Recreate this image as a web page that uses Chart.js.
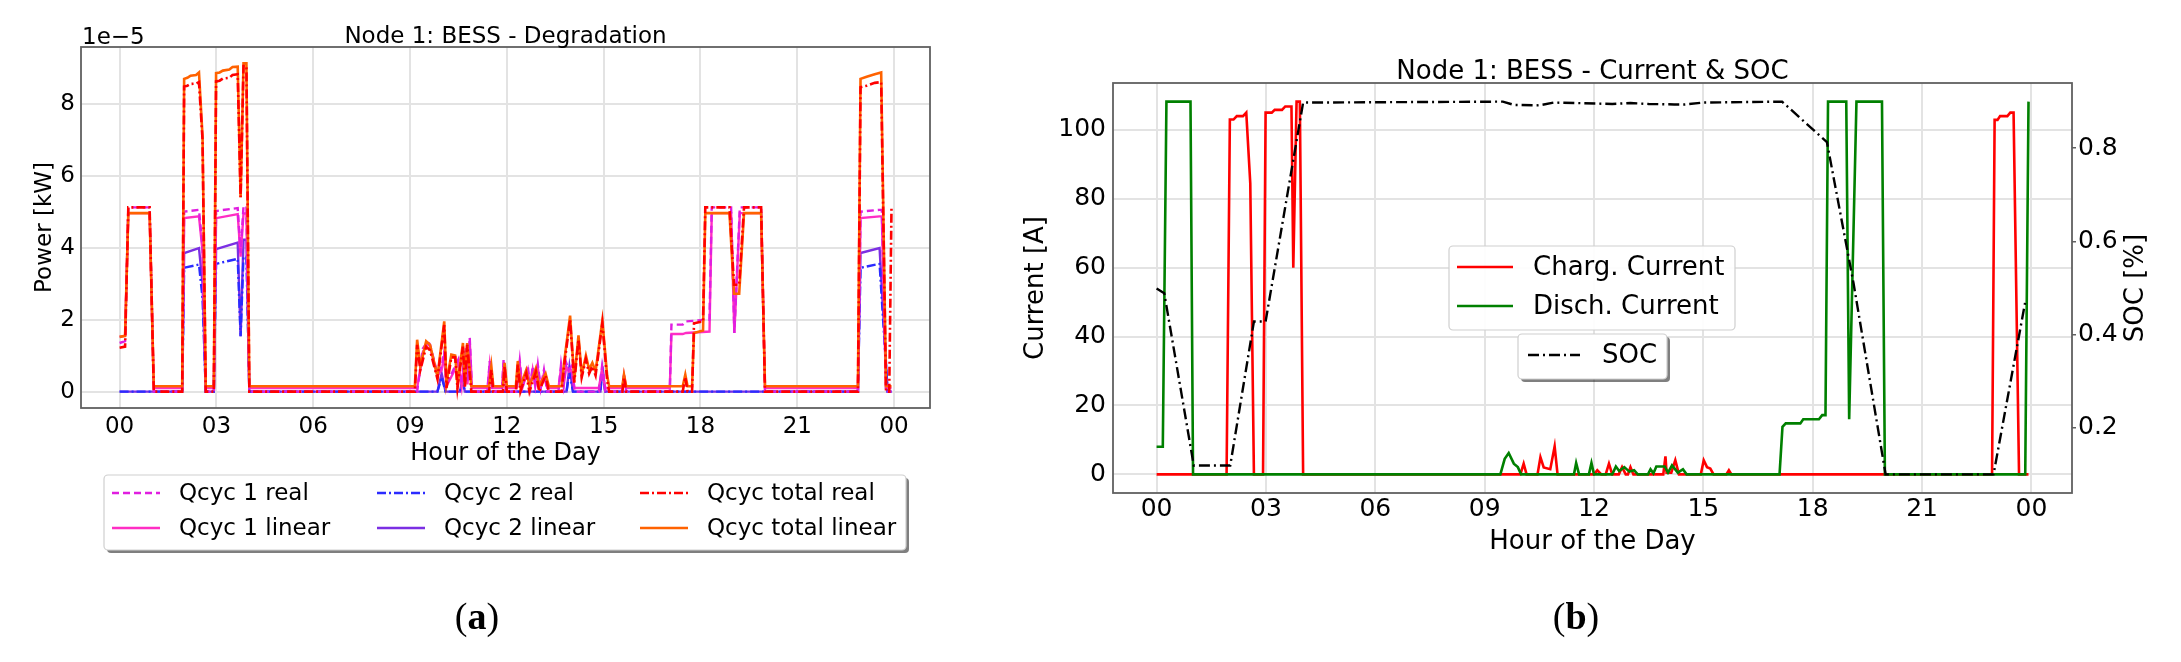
<!DOCTYPE html>
<html>
<head>
<meta charset="utf-8">
<script src="https://cdn.jsdelivr.net/npm/chart.js@4.4.1/dist/chart.umd.min.js"></script>
<style>
  html, body { margin: 0; padding: 0; background: #fff; }
  body { width: 2181px; height: 662px; position: relative; overflow: hidden; }
  canvas { position: absolute; top: 0; }
  #degradation { left: 0; width: 1000px; height: 662px; }
  #current { left: 1000px; width: 1181px; height: 662px; }
</style>
</head>
<body>
<canvas id="degradation" width="1000" height="662"></canvas>
<canvas id="current" width="1181" height="662"></canvas>
<script>
const FONT = '"DejaVu Sans"';

// shared hour axis
const hourTicks = [0, 3, 6, 9, 12, 15, 18, 21, 24];
const hourLabels = ['00', '03', '06', '09', '12', '15', '18', '21', '00'];
const powerTicks = [0, 2, 4, 6, 8];
const currentTicks = [0, 20, 40, 60, 80, 100];
const socTicks = [0.2, 0.4, 0.6, 0.8];

// (a) degradation, values in 1e-5 kW; breakpoints in hours
const totT = [
  0, 0.17, 0.27, 0.93, 1.06, 1.94, 2.00, 2.10, 2.20, 2.37, 2.46, 2.57, 2.67, 2.92, 2.99, 3.10, 3.20, 3.40, 3.50, 3.66, 3.75, 3.84, 3.93, 4.02,
  9.15, 9.22, 9.32, 9.50, 9.62, 9.85, 10.06, 10.13, 10.28, 10.40, 10.47, 10.64, 10.70, 10.77, 10.90,
  11.45, 11.52, 11.58, 11.88, 11.93, 12.00, 12.28, 12.34, 12.42, 12.60, 12.70, 12.90, 13.00, 13.20, 13.30,
  13.70, 13.78, 13.96, 14.09, 14.22, 14.32, 14.45, 14.55, 14.65, 14.75, 14.96, 15.11, 15.17, 15.58, 15.63, 15.70,
  17.45, 17.53, 17.60, 17.74, 17.80, 18.08, 18.15, 18.90, 19.04, 19.20, 19.35, 19.88, 20.00,
  22.88, 22.96, 23.15, 23.40, 23.60, 23.75, 23.85, 23.92
];
const totReal = [
  1.22, 1.25, 5.12, 5.12, 0, 0, 8.48, 8.50, 8.55, 8.56, 8.60, 7.00, 0, 0, 8.62, 8.64, 8.70, 8.72, 8.80, 8.82, 5.40, 9.05, 9.05, 0,
  0, 1.30, 0.60, 1.25, 1.15, 0.35, 1.85, 0.10, 0.95, 0.95, 0.10, 1.25, 0.10, 1.30, 0,
  0, 0.60, 0, 0, 0.70, 0, 0, 0.75, 0, 0.50, 0, 0.55, 0, 0.45, 0,
  0, 0.75, 2.00, 0.25, 1.45, 0.40, 0.90, 0.50, 0.70, 0.45, 1.90, 0.30, 0, 0, 0.40, 0,
  0, 0.40, 0, 0, 1.90, 1.95, 5.12, 5.12, 2.97, 2.97, 5.12, 5.12, 0,
  0, 8.46, 8.50, 8.58, 8.60, 0, 0, 5.12
];
const totLin = [
  1.52, 1.55, 4.96, 4.96, 0.15, 0.15, 8.69, 8.72, 8.78, 8.80, 8.87, 7.10, 0.15, 0.15, 8.85, 8.87, 8.92, 8.95, 9.02, 9.03, 5.40, 9.12, 9.12, 0.15,
  0.15, 1.44, 0.70, 1.40, 1.30, 0.42, 1.95, 0.24, 1.03, 1.00, 0.20, 1.35, 0.20, 1.35, 0.15,
  0.15, 0.70, 0.15, 0.15, 0.80, 0.15, 0.15, 0.85, 0.15, 0.60, 0.15, 0.65, 0.15, 0.50, 0.15,
  0.15, 0.85, 2.11, 0.33, 1.56, 0.47, 1.00, 0.61, 0.80, 0.56, 1.98, 0.43, 0.15, 0.15, 0.47, 0.15,
  0.15, 0.47, 0.15, 0.15, 1.63, 1.70, 4.96, 4.96, 2.72, 2.72, 4.96, 4.96, 0.15,
  0.15, 8.69, 8.75, 8.82, 8.87, 0.15, 0.15, 0.15
];

const q1T = [
  0, 0.17, 0.27, 0.93, 1.06, 1.94, 2.00, 2.46, 2.57, 2.67, 2.92, 2.99, 3.66, 3.75, 3.84, 3.93, 4.02,
  9.22, 9.40, 9.55, 9.62, 9.85, 9.98, 10.06, 10.13, 10.50, 10.60, 10.70, 10.78, 10.85, 10.92,
  11.40, 11.47, 11.55, 11.85, 11.90, 11.97, 12.30, 12.40, 12.48, 12.65, 12.72, 12.80, 12.88, 12.96, 13.05, 13.15, 13.25, 13.60, 13.68, 13.76, 13.84, 13.92, 14.00, 14.10,
  14.85, 14.95, 15.05, 15.58, 15.63, 15.70,
  17.05, 17.10, 17.45, 17.55, 18.28, 18.35, 18.95, 19.05, 19.22, 19.88, 20.00,
  22.88, 22.96, 23.55, 23.62, 23.75, 23.85, 23.92
];
const q1Real = [
  1.35, 1.40, 5.12, 5.12, 0, 0, 5.00, 5.05, 4.00, 0, 0, 5.02, 5.10, 3.85, 5.15, 5.15, 0,
  0, 1.20, 1.40, 1.30, 0.50, 0.70, 1.10, 0.20, 0.90, 0.20, 1.20, 0.30, 1.50, 0,
  0, 0.85, 0, 0, 0.90, 0, 0, 0.85, 0.10, 0.70, 0.10, 0.70, 0.20, 0.75, 0.10, 0.60, 0, 0, 0.75, 0.20, 0.80, 0.60, 0.70, 0,
  0, 0.70, 0, 0, 0.50, 0,
  0, 1.86, 1.86, 1.95, 2.00, 5.12, 5.12, 1.63, 5.12, 5.12, 0,
  0, 5.00, 5.05, 5.05, 0, 0, 0
];
const q1Lin = [
  1.52, 1.55, 4.96, 4.96, 0.10, 0.10, 4.82, 4.87, 3.90, 0.10, 0.10, 4.82, 4.93, 3.75, 4.95, 4.95, 0.10,
  0.10, 1.10, 1.35, 1.25, 0.45, 0.60, 1.00, 0.15, 0.80, 0.15, 1.10, 0.20, 1.40, 0.10,
  0.10, 0.75, 0.10, 0.10, 0.80, 0.10, 0.10, 0.75, 0.10, 0.60, 0.10, 0.60, 0.15, 0.65, 0.10, 0.50, 0.10, 0.10, 0.65, 0.15, 0.70, 0.55, 0.60, 0.10,
  0.10, 0.60, 0.10, 0.10, 0.45, 0.10,
  0.10, 1.60, 1.60, 1.63, 1.67, 4.96, 4.96, 1.63, 4.96, 4.96, 0.10,
  0.10, 4.82, 4.87, 4.87, 0.10, 0.10, 0.10
];

const q2T = [
  0, 1.94, 2.00, 2.46, 2.57, 2.67, 2.92, 2.99, 3.66, 3.75, 3.84, 3.93, 4.02,
  9.85, 9.98, 10.10, 10.55, 10.62, 10.70, 13.85, 13.94, 14.05, 14.90, 14.96, 15.05,
  22.88, 22.96, 23.55, 23.80, 23.92
];
const q2Real = [
  0, 0, 3.44, 3.53, 2.60, 0, 0, 3.55, 3.69, 1.54, 3.75, 3.75, 0,
  0, 0.40, 0, 0, 0.30, 0, 0, 0.55, 0, 0, 0.60, 0,
  0, 3.44, 3.55, 0, 0
];
const q2Lin = [
  0, 0, 3.85, 3.99, 3.00, 0, 0, 3.96, 4.14, 1.54, 4.22, 4.22, 0,
  0, 0.50, 0, 0, 0.35, 0, 0, 0.70, 0, 0, 0.70, 0,
  0, 3.85, 3.99, 0, 0
];

// (b) current [A] and SOC [-]
const chargT = [
  0, 1.92, 2.01, 2.11, 2.20, 2.37, 2.46, 2.57, 2.67, 2.92, 2.99, 3.16, 3.24, 3.44, 3.53, 3.70, 3.75, 3.84, 3.93, 4.02,
  9.98, 10.07, 10.15, 10.45, 10.53, 10.62, 10.80, 10.92, 11.00,
  12.00, 12.09, 12.20, 12.32, 12.41, 12.50, 12.68, 12.77, 12.87, 12.93, 13.00, 13.08,
  13.90, 13.96, 13.99, 14.12, 14.23, 14.33, 14.93, 15.01, 15.10, 15.19, 15.28, 15.63, 15.70, 15.77,
  22.92, 22.99, 23.07, 23.14, 23.34, 23.42, 23.51, 23.66, 23.92
];
const chargA = [
  0, 0, 103, 103, 104, 104, 105, 84.5, 0, 0, 105, 105, 105.8, 105.8, 106.8, 106.8, 60, 108.2, 108.2, 0,
  0, 3.1, 0, 0, 5.0, 2.0, 1.5, 8.1, 0,
  0, 1.2, 0, 0, 3.1, 0, 0, 2.1, 0, 0, 2.1, 0,
  0, 5.2, 0.5, 0.5, 4.1, 0, 0, 4.1, 2.1, 1.7, 0, 0, 1.2, 0,
  0, 102.9, 102.9, 104, 104, 105, 105, 0, 0
];

const dischT = [
  0, 0.17, 0.27, 0.93, 1.00,
  9.43, 9.55, 9.66, 9.80, 9.91, 10.00, 11.45, 11.51, 11.59, 11.86, 11.93, 12.00,
  12.50, 12.60, 12.69, 12.83, 12.97, 13.10, 13.20, 13.48, 13.55, 13.63, 13.71, 13.94, 14.03, 14.14, 14.30, 14.44, 14.54,
  17.09, 17.17, 17.26, 17.66, 17.74, 18.17, 18.26, 18.35, 18.42, 18.92, 19.00, 19.20, 19.90, 19.98,
  23.83, 23.92
];
const dischA = [
  8, 8, 108.2, 108.2, 0,
  0, 4.5, 6.2, 3.1, 2.1, 0, 0, 3.3, 0, 0, 3.3, 0,
  0, 2.3, 1.0, 2.1, 0.8, 1.2, 0, 0, 1.5, 0.3, 2.3, 2.3, 0.5, 2.6, 0.5, 1.5, 0,
  0, 13.8, 14.8, 14.8, 16, 16, 17.2, 17.2, 108.2, 108.2, 16, 108.2, 108.2, 0,
  0, 108.2
];

const socT = [0, 0.21, 1.02, 2.02, 2.67, 2.99, 4.02, 9.50, 9.80, 10.50, 10.90, 11.50, 12.50, 13.00, 13.50, 14.20, 14.50, 15.00, 17.16, 18.39, 19.12, 20.00, 22.96, 23.83];
const socV = [0.499, 0.489, 0.119, 0.119, 0.428, 0.428, 0.898, 0.900, 0.893, 0.892, 0.898, 0.897, 0.895, 0.897, 0.895, 0.894, 0.894, 0.898, 0.900, 0.813, 0.510, 0.100, 0.100, 0.470];

const xy = (t, v) => t.map((x, i) => ({ x, y: v[i] }));

function roundBox(ctx, x, y, w, h, r) {
  ctx.beginPath();
  ctx.moveTo(x + r, y);
  ctx.arcTo(x + w, y, x + w, y + h, r);
  ctx.arcTo(x + w, y + h, x, y + h, r);
  ctx.arcTo(x, y + h, x, y, r);
  ctx.arcTo(x, y, x + w, y, r);
  ctx.closePath();
}

function legendBox(ctx, x, y, w, h, shadow) {
  if (shadow) {
    ctx.fillStyle = 'rgba(0,0,0,0.5)';
    roundBox(ctx, x + 3, y + 3, w, h, 4);
    ctx.fill();
  }
  ctx.fillStyle = shadow ? '#fff' : 'rgba(255,255,255,0.92)';
  ctx.strokeStyle = '#cfcfcf';
  ctx.lineWidth = 1.2;
  roundBox(ctx, x, y, w, h, 4);
  ctx.fill();
  ctx.stroke();
}

function legendEntry(ctx, ds, x, y, len, gap, size) {
  ctx.strokeStyle = ds.borderColor;
  ctx.lineWidth = ds.borderWidth;
  ctx.setLineDash(ds.borderDash || []);
  ctx.beginPath();
  ctx.moveTo(x, y);
  ctx.lineTo(x + len, y);
  ctx.stroke();
  ctx.setLineDash([]);
  ctx.fillStyle = '#000';
  ctx.font = size + 'px ' + FONT;
  ctx.textAlign = 'left';
  ctx.textBaseline = 'middle';
  ctx.fillText(ds.label, x + len + gap, y + 1);
}

function panelTag(ctx, letter, cx, baseline) {
  const normal = '38px "Liberation Serif"';
  const bold = 'bold 38px "Liberation Serif"';
  ctx.font = normal;
  const wo = ctx.measureText('(').width, wc = ctx.measureText(')').width;
  ctx.font = bold;
  const wl = ctx.measureText(letter).width;
  let x = cx - (wo + wl + wc) / 2;
  ctx.fillStyle = '#000';
  ctx.textAlign = 'left';
  ctx.textBaseline = 'alphabetic';
  ctx.font = normal; ctx.fillText('(', x, baseline); x += wo;
  ctx.font = bold; ctx.fillText(letter, x, baseline); x += wl;
  ctx.font = normal; ctx.fillText(')', x, baseline);
}

function drawFrame(ctx, a) {
  ctx.strokeStyle = '#606060';
  ctx.lineWidth = 1.8;
  ctx.strokeRect(a.left, a.top, a.right - a.left, a.bottom - a.top);
}

const gridStyle = { color: '#e3e3e3', lineWidth: 2, drawTicks: false };

function hourAxis(size, titleSize, tickPad, titlePad, height) {
  return {
    type: 'linear', min: -1.196, max: 25.113,
    afterBuildTicks: s => { s.ticks = hourTicks.map(v => ({ value: v })); },
    afterFit: s => { s.height = height; },
    ticks: {
      autoSkip: false, maxRotation: 0, padding: tickPad, color: '#000',
      font: { family: 'DejaVu Sans', size: size },
      callback: (v, i) => hourLabels[i]
    },
    grid: gridStyle,
    border: { display: false },
    title: {
      display: true, text: 'Hour of the Day', color: '#000',
      font: { family: 'DejaVu Sans', size: titleSize },
      padding: { top: 0, bottom: titlePad }
    }
  };
}

// ---------- (a) ----------
const degradationDecor = {
  id: 'degradationDecor',
  afterDraw(chart) {
    const { ctx, chartArea: a } = chart;
    const ds = chart.data.datasets;
    ctx.save();
    drawFrame(ctx, a);
    ctx.fillStyle = '#000';
    ctx.font = '23px ' + FONT;
    ctx.textBaseline = 'alphabetic';
    ctx.textAlign = 'center';
    ctx.fillText('Node 1: BESS - Degradation', (a.left + a.right) / 2, a.top - 4);
    ctx.textAlign = 'left';
    ctx.fillText('1e\u22125', a.left + 1, a.top - 3);

    legendBox(ctx, 104, 475, 802, 75, true);
    const cols = [112, 377, 640];
    const rows = [493, 528];
    for (let i = 0; i < 6; i++) {
      legendEntry(ctx, ds[i], cols[Math.floor(i / 2)], rows[i % 2], 48, 19, 23);
    }
    panelTag(ctx, 'a', 477, 629);
    ctx.restore();
  }
};

new Chart(document.getElementById('degradation'), {
  type: 'line',
  data: {
    datasets: [
      { label: 'Qcyc 1 real', data: xy(q1T, q1Real), borderColor: '#e01ee0', borderWidth: 2.4, borderDash: [7, 4], order: 2 },
      { label: 'Qcyc 1 linear', data: xy(q1T, q1Lin), borderColor: '#ff2ec4', borderWidth: 2.4, order: 3 },
      { label: 'Qcyc 2 real', data: xy(q2T, q2Real), borderColor: '#2b2bff', borderWidth: 2.4, borderDash: [9, 3, 2, 3], order: 4 },
      { label: 'Qcyc 2 linear', data: xy(q2T, q2Lin), borderColor: '#7b2fe3', borderWidth: 2.4, order: 5 },
      { label: 'Qcyc total real', data: xy(totT, totReal), borderColor: '#ff0000', borderWidth: 2.6, borderDash: [9, 3, 2, 3], order: 0 },
      { label: 'Qcyc total linear', data: xy(totT, totLin), borderColor: '#ff6200', borderWidth: 2.6, order: 1 }
    ]
  },
  options: {
    responsive: false,
    animation: false,
    layout: { padding: { left: 0, top: 47, right: 70, bottom: 192 } },
    elements: { point: { radius: 0 }, line: { tension: 0 } },
    plugins: { legend: { display: false }, tooltip: { enabled: false } },
    scales: {
      x: hourAxis(23, 24, 5, 2, 62),
      y: {
        min: -0.456, max: 9.576,
        afterBuildTicks: s => { s.ticks = powerTicks.map(v => ({ value: v })); },
        afterFit: s => { s.width = 81; },
        ticks: { padding: 6, color: '#000', font: { family: 'DejaVu Sans', size: 23 }, callback: v => String(v) },
        grid: gridStyle,
        border: { display: false },
        title: {
          display: true, text: 'Power [kW]', color: '#000',
          font: { family: 'DejaVu Sans', size: 23 },
          padding: { top: 31, bottom: 0 }
        }
      }
    }
  },
  plugins: [degradationDecor]
});

// ---------- (b) ----------
const currentDecor = {
  id: 'currentDecor',
  afterDraw(chart) {
    const { ctx, chartArea: a } = chart;
    const ds = chart.data.datasets;
    ctx.save();
    drawFrame(ctx, a);
    ctx.fillStyle = '#000';
    ctx.font = '26px ' + FONT;
    ctx.textBaseline = 'alphabetic';
    ctx.textAlign = 'center';
    ctx.fillText('Node 1: BESS - Current & SOC', (a.left + a.right) / 2, a.top - 4);

    // right axis title, read bottom to top
    ctx.save();
    ctx.translate(1136, (a.top + a.bottom) / 2);
    ctx.rotate(-Math.PI / 2);
    ctx.textBaseline = 'middle';
    ctx.fillText('SOC [%]', 0, 0);
    ctx.restore();

    legendBox(ctx, 449, 246, 286, 84, false);
    legendEntry(ctx, ds[0], 457, 267, 56, 20, 26);
    legendEntry(ctx, ds[1], 457, 306, 56, 20, 26);
    legendBox(ctx, 518, 334, 149, 45, true);
    legendEntry(ctx, ds[2], 528, 355, 52, 22, 26);

    panelTag(ctx, 'b', 576, 629);
    ctx.restore();
  }
};

new Chart(document.getElementById('current'), {
  type: 'line',
  data: {
    datasets: [
      { label: 'Charg. Current', data: xy(chargT, chargA), borderColor: '#ff0000', borderWidth: 2.6, yAxisID: 'y', order: 2 },
      { label: 'Disch. Current', data: xy(dischT, dischA), borderColor: '#008000', borderWidth: 2.6, yAxisID: 'y', order: 1 },
      { label: 'SOC', data: xy(socT, socV), borderColor: '#000000', borderWidth: 2.4, borderDash: [11, 4, 2, 4], yAxisID: 'y2', order: 0 }
    ]
  },
  options: {
    responsive: false,
    animation: false,
    layout: { padding: { left: 0, top: 83, right: 0, bottom: 102 } },
    elements: { point: { radius: 0 }, line: { tension: 0 } },
    plugins: { legend: { display: false }, tooltip: { enabled: false } },
    scales: {
      x: hourAxis(25, 26, 1, 2, 67),
      y: {
        position: 'left',
        min: -5.41, max: 113.61,
        afterBuildTicks: s => { s.ticks = currentTicks.map(v => ({ value: v })); },
        afterFit: s => { s.width = 113; },
        ticks: { padding: 7, color: '#000', font: { family: 'DejaVu Sans', size: 25 }, callback: v => String(v) },
        grid: gridStyle,
        border: { display: false },
        title: {
          display: true, text: 'Current [A]', color: '#000',
          font: { family: 'DejaVu Sans', size: 26 },
          padding: { top: 21, bottom: 0 }
        }
      },
      y2: {
        position: 'right',
        min: 0.06, max: 0.94,
        afterBuildTicks: s => { s.ticks = socTicks.map(v => ({ value: v })); },
        afterFit: s => { s.width = 109; },
        ticks: { padding: 2, color: '#000', font: { family: 'DejaVu Sans', size: 25 }, callback: v => String(v) },
        grid: { drawOnChartArea: false, drawTicks: true, tickLength: 4, tickColor: '#606060', lineWidth: 1.5 },
        border: { display: false }
      }
    }
  },
  plugins: [currentDecor]
});
</script>
</body>
</html>
